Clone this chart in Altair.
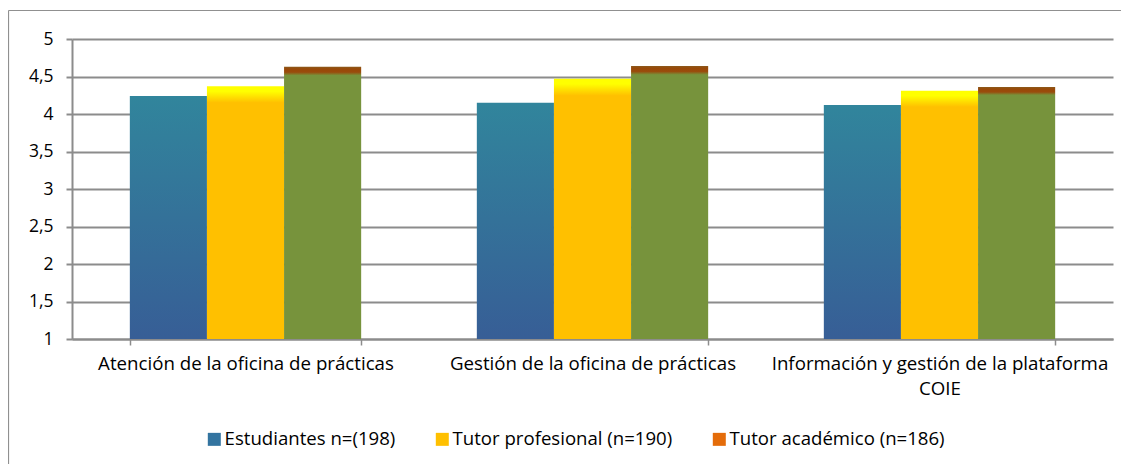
import altair as alt
import pandas as pd

categories = [
    "Atención de la oficina de prácticas",
    "Gestión de la oficina de prácticas",
    "Información y gestión de la plataforma COIE",
]
series = ["Estudiantes n=(198)", "Tutor profesional (n=190)", "Tutor académico (n=186)"]
estudiantes = [4.24, 4.15, 4.12]
tutor_profesional = [4.37, 4.47, 4.31]
tutor_academico = [4.63, 4.64, 4.36]

legend_colors = ["#3374A0", "#FFC000", "#E46C0A"]

rows = []
for s, vals in zip(series, [estudiantes, tutor_profesional, tutor_academico]):
    for c, v in zip(categories, vals):
        rows.append({"cat": c, "series": s, "value": v})
df = pd.DataFrame(rows)

FONT = "Open Sans"
GRAY = "#8c8c8c"


def grad(stops):
    return alt.Gradient(
        gradient="linear",
        stops=[alt.GradientStop(offset=o, color=c) for o, c in stops],
        x1=0, x2=0, y1=0, y2=1,
    )


gradients = [
    grad([(0, "#31859C"), (1, "#375E96")]),
    grad([(0, "#FFFF00"), (0.02, "#FFFF00"), (0.065, "#FFC000"), (1, "#FFC000")]),
    grad([(0, "#8A5A1C"), (0.008, "#984807"), (0.02, "#9A4C0C"), (0.032, "#77933C"), (1, "#77933C")]),
]

label_expr = (
    "datum.value == 'Información y gestión de la plataforma COIE' ? "
    "['Información y gestión de la plataforma', 'COIE'] : datum.label"
)

x_enc = alt.X(
    "cat:N",
    sort=categories,
    scale=alt.Scale(domain=categories, paddingInner=1 / 3, paddingOuter=1 / 6),
    axis=alt.Axis(
        title=None, labelAngle=0, tickBand="extent", domainColor=GRAY, domainWidth=2,
        tickColor=GRAY, tickWidth=1.5, tickSize=6, labelFontSize=18.7, labelPadding=9,
        labelExpr=label_expr, labelLineHeight=25, labelLimit=600, labelColor="#000000",
        labelFont=FONT, grid=False,
    ),
)
xoff_enc = alt.XOffset("series:N", sort=series,
                       scale=alt.Scale(domain=series, paddingInner=0, paddingOuter=0))
y_enc = alt.Y(
    "value:Q",
    scale=alt.Scale(domain=[1, 5], nice=False, zero=False),
    axis=alt.Axis(
        title=None, values=[1, 1.5, 2, 2.5, 3, 3.5, 4, 4.5, 5],
        labelExpr="replace(format(datum.value, '.1~f'), '.', ',')",
        grid=True, gridColor=GRAY, gridWidth=2, domainColor=GRAY, domainWidth=2,
        tickColor=GRAY, tickWidth=2, tickSize=6, labelPadding=13, labelFontSize=17.5,
        labelColor="#000000", labelFont=FONT,
    ),
)

base = alt.Chart(df).encode(x=x_enc, xOffset=xoff_enc, y=y_enc, y2=alt.datum(1))

layers = []
for s, g in zip(series, gradients):
    layers.append(
        base.transform_filter(alt.datum.series == s).mark_bar(fill=g, strokeWidth=0)
    )

legend_layer = base.mark_square(opacity=0).encode(
    color=alt.Color(
        "series:N", sort=series,
        scale=alt.Scale(domain=series, range=legend_colors),
        legend=alt.Legend(
            title=None, orient="none", legendX=133, legendY=391, direction="horizontal",
            symbolType="square", symbolSize=169, symbolOpacity=1, symbolStrokeWidth=0,
            labelFontSize=18.6, labelFont=FONT, labelColor="#000000", columnPadding=37,
            labelOffset=1, padding=0, labelLimit=400,
        ),
    )
)

frame = pd.DataFrame({"k": [0]})
top_border = alt.Chart(frame).mark_rule(color="#909090", strokeWidth=1.2).encode(
    x=alt.value(-63.5), x2=alt.value(1049), y=alt.value(-28.5)
)
left_border = alt.Chart(frame).mark_rule(color="#909090", strokeWidth=1.2).encode(
    x=alt.value(-63.5), y=alt.value(-28.5), y2=alt.value(425)
)

chart = alt.layer(*layers, legend_layer, top_border, left_border).properties(
    width=1041, height=300,
    padding={"left": 64, "top": 31, "right": 8, "bottom": 125},
    autosize="none",
).configure(font=FONT).configure_view(stroke=None)

chart.save("out.html", embed_options={"renderer": "svg", "actions": False})
